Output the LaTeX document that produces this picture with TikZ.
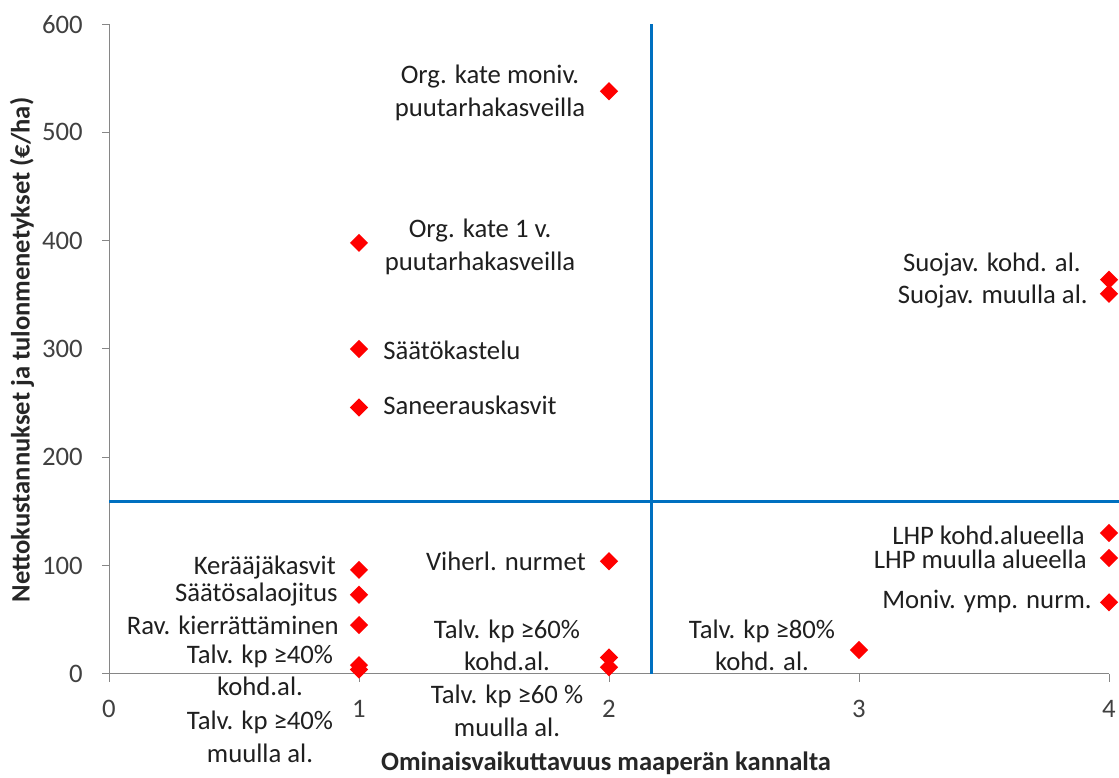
\documentclass[tikz,border=0pt]{standalone}
\usepackage{fontspec}
\setmainfont{Carlito}
\usepackage{tikz}
\usetikzlibrary{shapes.geometric, positioning}
\definecolor{quadcol}{RGB}{0,112,192}
\definecolor{axiscol}{RGB}{134,134,134}
\definecolor{tickcol}{RGB}{64,64,64}
\definecolor{ptcol}{RGB}{255,0,0}

\begin{document}
\begin{tikzpicture}[
  x=6.25cm, y=0.027075cm,
  font=\fontsize{19}{22.8}\selectfont,
  pt/.style={diamond, fill=ptcol, inner sep=0pt, minimum size=0.46cm},
  lbl/.style={inner sep=0pt, align=center, text=black!88},
  ticklbl/.style={inner sep=0pt, text=tickcol},
  axtitle/.style={inner sep=0pt, font=\fontsize{18.9}{22.8}\selectfont\bfseries,
                  text=black!85},
  axln/.style={axiscol, line width=0.7pt},
  quad/.style={quadcol, line width=1.8pt}
]
  \useasboundingbox (-0.436,-96.0) rectangle (4.04,622.3);

  % axes and ticks
  \coordinate (o) at (0,0);
  \coordinate (ytop) at (0,600);
  \coordinate (xend) at (4,0);
  \draw[axln] (o) -- (ytop);
  \draw[axln] (o) -- (xend);
  \foreach \v in {0,100,...,600} {
    \draw[axln] (-0.028,\v) -- (0,\v);
    \node[ticklbl, anchor=east] (yt\v) at (-0.104,\v) {\v};
  }
  \foreach \v in {0,1,2,3,4} {
    \draw[axln] (\v,0) -- (\v,-7.4);
    \node[ticklbl] (xt\v) at (\v,-32.3) {\v};
  }
  \node[axtitle, rotate=90] (ytitle) at (-0.348,299)
    {Nettokustannukset ja tulonmenetykset (€/ha)};
  \node[axtitle] (xtitle) at (1.988,-83)
    {Ominaisvaikuttavuus maaperän kannalta};

  % quadrant lines
  \coordinate (vtop) at (2.17,600);
  \coordinate (vbot) at (2.17,0);
  \coordinate (hleft) at (0,159);
  \coordinate (hright) at (4.04,159);
  \draw[quad] (vbot) -- (vtop);
  \draw[quad] (hleft) -- (hright);

  % measures
  \foreach \i/\x/\y in {1/2/538, 2/1/398, 3/1/300, 4/1/246, 5/4/364,
                        6/4/351, 7/4/130, 8/4/107, 9/4/66, 10/3/22,
                        11/1/96, 12/1/73, 13/1/45, 14/1/8, 15/1/4,
                        16/2/104, 17/2/15, 18/2/6} {
    \node[pt] (p\i) at (\x,\y) {};
  }

  \node[lbl] (orgmon) at (1.524,536.5) {Org. kate moniv.\\puutarhakasveilla};
  \node[lbl] (org1v) at (1.484,394.3) {Org. kate 1 v.\\puutarhakasveilla};
  \node[lbl, anchor=west] (kastelu) at (1.096,299.2) {Säätökastelu};
  \node[lbl, anchor=west] (saneer) at (1.096,248.4) {Saneerauskasvit};
  \node[lbl, anchor=east] (suokoh) at (3.888,377.7) {Suojav. kohd. al.};
  \node[lbl, anchor=east] (suomuu) at (3.916,348.1) {Suojav. muulla al.};
  \node[lbl, anchor=east] (lhpkoh) at (3.904,128.3) {LHP kohd.alueella};
  \node[lbl, anchor=east] (lhpmuu) at (3.912,105.3) {LHP muulla alueella};
  \node[lbl, anchor=east] (moniv) at (3.932,66.5) {Moniv. ymp. nurm.};
  \node[lbl] (talv80) at (2.612,25.9) {Talv. kp ≥80\%\\kohd. al.};
  \node[lbl, anchor=east] (kerays) at (0.908,97.9) {Kerääjäkasvit};
  \node[lbl, anchor=east] (salaoj) at (0.916,72.9) {Säätösalaojitus};
  \node[lbl, anchor=east] (ravkier) at (0.920,45.2) {Rav. kierrättäminen};
  \node[lbl] (talv40k) at (0.604,2.8) {Talv. kp ≥40\%\\kohd.al.};
  \node[lbl] (talv40m) at (0.604,-58.2) {Talv. kp ≥40\%\\muulla al.};
  \node[lbl, anchor=east] (viherl) at (1.908,104.3) {Viherl. nurmet};
  \node[lbl] (talv60k) at (1.592,25.9) {Talv. kp ≥60\%\\kohd.al.};
  \node[lbl] (talv60m) at (1.592,-34.2) {Talv. kp ≥60 \%\\muulla al.};
\end{tikzpicture}
\end{document}
